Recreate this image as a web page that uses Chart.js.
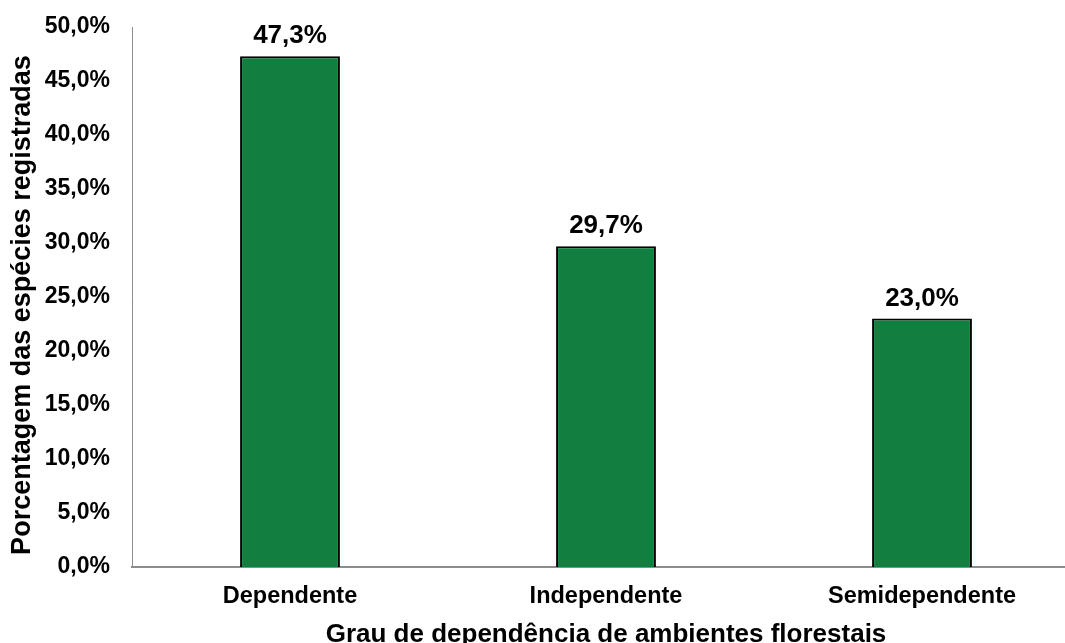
<!DOCTYPE html>
<html>
<head>
<meta charset="utf-8">
<script src="https://cdn.jsdelivr.net/npm/chart.js@4"></script>
<style>
html,body{margin:0;padding:0;background:#fff;overflow:hidden;}
#wrap{width:1081px;height:643px;}
</style>
</head>
<body>
<div id="wrap"><canvas id="c" width="1081" height="643"></canvas></div>
<script>
const categories = ['Dependente', 'Independente', 'Semidependente'];
const percentages = [47.3, 29.7, 23.0];
const yTicks = [0, 5, 10, 15, 20, 25, 30, 35, 40, 45, 50];
const xTitle = 'Grau de dependência de ambientes florestais';
const yTitle = 'Porcentagem das espécies registradas';

const FONT = '"Liberation Sans", Arial, sans-serif';
const fmt = v => v.toFixed(1).replace('.', ',') + '%';

const labelPlugin = {
  id: 'barLabels',
  afterDatasetsDraw(chart) {
    const ctx = chart.ctx;
    const meta = chart.getDatasetMeta(0);
    ctx.save();
    ctx.font = 'bold 26px ' + FONT;
    ctx.fillStyle = '#000';
    ctx.textAlign = 'center';
    ctx.textBaseline = 'alphabetic';
    meta.data.forEach((bar, i) => {
      ctx.fillText(fmt(percentages[i]), bar.x, bar.y - 13);
    });
    ctx.restore();
  }
};

const yTitlePlugin = {
  id: 'yTitle',
  afterDraw(chart) {
    const ctx = chart.ctx;
    ctx.save();
    ctx.font = 'bold 27px ' + FONT;
    ctx.fillStyle = '#000';
    ctx.textAlign = 'center';
    ctx.textBaseline = 'middle';
    ctx.translate(23, 305);
    ctx.rotate(-Math.PI / 2);
    ctx.fillText(yTitle, 0, 0);
    ctx.restore();
  }
};

new Chart(document.getElementById('c'), {
  type: 'bar',
  data: {
    labels: categories,
    datasets: [{
      data: percentages,
      backgroundColor: '#117F3F',
      borderColor: '#000',
      borderWidth: 2,
      borderSkipped: 'bottom',
      categoryPercentage: 1,
      barPercentage: 0.316
    }]
  },
  options: {
    responsive: false,
    animation: false,
    layout: { padding: { top: 27, right: 1, bottom: 0, left: 0 } },
    plugins: { legend: { display: false }, tooltip: { enabled: false } },
    scales: {
      x: {
        grid: { display: false, drawTicks: false },
        border: { display: true, color: '#8c8c8c', width: 2 },
        ticks: { color: '#000', padding: 15, font: { family: FONT, size: 23.5, weight: 'bold' } },
        title: {
          display: true,
          text: xTitle,
          color: '#000',
          font: { family: FONT, size: 26, weight: 'bold', lineHeight: 0.6 },
          padding: { top: 0, bottom: 0 }
        },
        afterFit(scale) { scale.height = 76; }
      },
      y: {
        min: 0,
        max: 50,
        grid: { display: false, drawTicks: false },
        border: { display: true, color: '#8c8c8c', width: 1 },
        afterBuildTicks(scale) { scale.ticks = yTicks.map(v => ({ value: v })); },
        ticks: {
          color: '#000',
          padding: 22,
          font: { family: FONT, size: 23, weight: 'bold' },
          callback: v => fmt(v)
        },
        afterFit(scale) {
          scale.width = 132;
          scale.paddingTop = 0;
          scale.paddingBottom = 0;
        }
      }
    }
  },
  plugins: [labelPlugin, yTitlePlugin]
});
</script>
</body>
</html>
